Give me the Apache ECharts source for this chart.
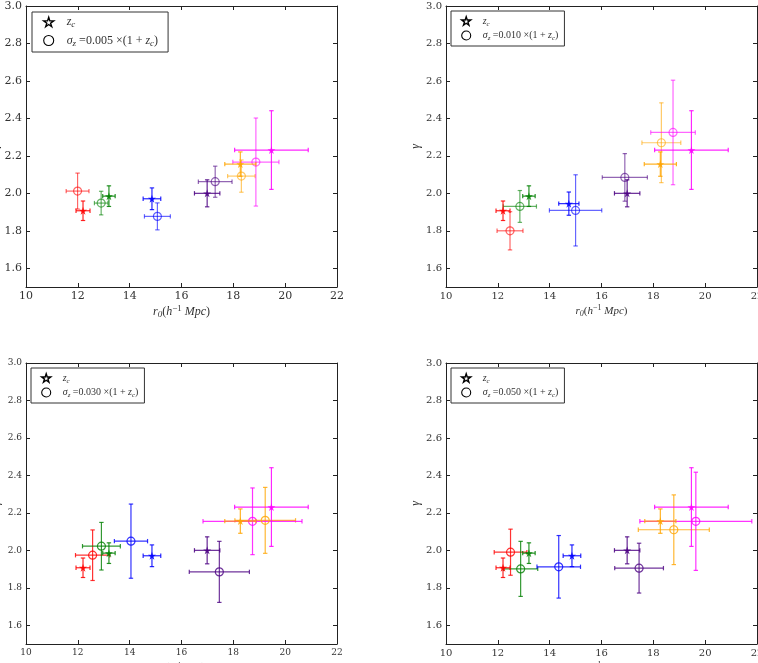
<!DOCTYPE html>
<html>
<head>
<meta charset="utf-8">
<script src="https://cdn.jsdelivr.net/npm/echarts@6/dist/echarts.min.js"></script>
<style>
html, body { margin: 0; padding: 0; background: #fff; }
#chart { width: 758px; height: 663px; }
</style>
</head>
<body>
<div id="chart"></div>
<script>
// ticks
const xTicks = [10, 12, 14, 16, 18, 20, 22];
const yTicks = [1.6, 1.8, 2.0, 2.2, 2.4, 2.6, 2.8, 3.0];
const sigmaLabels = ['0.005', '0.010', '0.030', '0.050'];

// rows: [r0, gamma, r0 err, gamma err]
// order: red, green, blue, purple, orange, magenta
const starsMain = [
  [12.20, 1.907, 0.27, 0.052],
  [13.20, 1.985, 0.24, 0.055],
  [14.86, 1.971, 0.34, 0.058],
  [16.99, 2.000, 0.49, 0.072],
  [18.27, 2.156, 0.60, 0.065],
  [19.47, 2.231, 1.42, 0.210]
];
const starsPanel2 = [
  [12.20, 1.907, 0.27, 0.052],
  [13.20, 1.985, 0.24, 0.055],
  [14.74, 1.945, 0.39, 0.062],
  [16.99, 2.000, 0.49, 0.072],
  [18.27, 2.156, 0.62, 0.065],
  [19.47, 2.231, 1.42, 0.210]
];
const circles005 = [
  [11.99, 2.012, 0.44, 0.096],
  [12.90, 1.948, 0.26, 0.063],
  [15.07, 1.877, 0.50, 0.072],
  [17.30, 2.062, 0.65, 0.083],
  [18.31, 2.092, 0.53, 0.086],
  [18.87, 2.167, 0.89, 0.235]
];
const circles010 = [
  [12.47, 1.800, 0.50, 0.102],
  [12.85, 1.930, 0.64, 0.085],
  [15.00, 1.909, 1.01, 0.190],
  [16.90, 2.085, 0.87, 0.127],
  [18.31, 2.270, 0.75, 0.213],
  [18.76, 2.325, 0.86, 0.279]
];
const circles030 = [
  [12.57, 1.974, 0.66, 0.135],
  [12.91, 2.022, 0.73, 0.127],
  [14.05, 2.049, 0.64, 0.198],
  [17.46, 1.885, 1.16, 0.163],
  [19.23, 2.160, 1.17, 0.176],
  [18.74, 2.155, 1.91, 0.178]
];
const circles050 = [
  [12.49, 1.990, 0.63, 0.123],
  [12.88, 1.901, 0.66, 0.147],
  [14.35, 1.912, 0.84, 0.167],
  [17.45, 1.905, 0.94, 0.133],
  [18.79, 2.110, 1.37, 0.186],
  [19.64, 2.155, 2.16, 0.262]
];

const starSets = [starsMain, starsPanel2, starsMain, starsMain];
const circleSets = [circles005, circles010, circles030, circles050];

// styling
const pointColors = ['#ff0000', '#008000', '#0000ff', '#4b0082', '#ffa500', '#ff00ff'];
const boxes = [
  { left: 26, top: 6, width: 311, height: 281 },
  { left: 446, top: 6, width: 311, height: 281 },
  { left: 26, top: 363, width: 311, height: 281 },
  { left: 446, top: 363, width: 311, height: 281 }
];
const legendPos = [
  { left: 32, top: 12, fs: 12, icon: 10, padL: 11, gap: 8, padR: 10, itemGap: 5 },
  { left: 451, top: 11, fs: 10, icon: 9, padL: 10, gap: 7, padR: 6, itemGap: 2 },
  { left: 31, top: 368, fs: 10, icon: 9, padL: 10, gap: 7, padR: 6, itemGap: 2 },
  { left: 451, top: 368, fs: 10, icon: 9, padL: 10, gap: 7, padR: 6, itemGap: 2 }
];
const tickFont = [11, 10, 9, 10];
const gammaGap = [23, 18, 23, 18];
const circleAlpha = [0.6, 0.6, 0.8, 0.8];
const starPath = 'path://M50,0 L61,35 L98,35 L68,57 L79,91 L50,70 L21,91 L32,57 L2,35 L39,35 Z';
const serif = 'Liberation Serif';

function mathRich(fs, gap) {
  return {
    g: { width: gap || 0 },
    i: { fontFamily: serif, fontStyle: 'italic', fontSize: fs, color: '#333' },
    n: { fontFamily: serif, fontSize: fs, color: '#333' },
    s: { fontFamily: serif, fontStyle: 'italic', fontSize: fs - 3, color: '#333', padding: [6, 0, 0, 0] },
    p: { fontFamily: serif, fontSize: fs - 3, color: '#333', padding: [0, 0, 6, 0] }
  };
}

function errorBars(alpha) {
  return function (params, api) {
    const x = api.value(0), y = api.value(1), dx = api.value(2), dy = api.value(3);
    const l = api.coord([x - dx, y]), r = api.coord([x + dx, y]);
    const t = api.coord([x, y + dy]), b = api.coord([x, y - dy]);
    const style = { stroke: pointColors[params.dataIndex], lineWidth: 1.2, opacity: alpha };
    const cap = 2.2;
    const seg = (x1, y1, x2, y2) => ({ type: 'line', shape: { x1, y1, x2, y2 }, style });
    return {
      type: 'group',
      children: [
        seg(l[0], l[1], r[0], r[1]),
        seg(t[0], t[1], b[0], b[1]),
        seg(l[0], l[1] - cap, l[0], l[1] + cap),
        seg(r[0], r[1] - cap, r[0], r[1] + cap),
        seg(t[0] - cap, t[1], t[0] + cap, t[1]),
        seg(b[0] - cap, b[1], b[0] + cap, b[1])
      ]
    };
  };
}

const grid = [], xAxis = [], yAxis = [], series = [], legend = [];

boxes.forEach((box, i) => {
  grid.push(Object.assign({ containLabel: false, outerBoundsMode: 'none' }, box));
  const fs = tickFont[i];
  const axisLine = { show: true, onZero: false, lineStyle: { color: '#222', width: 1 } };
  const tick = { show: true, inside: true, length: 4, lineStyle: { color: '#222' } };
  const label = { fontFamily: 'DejaVu Serif', fontSize: fs, color: '#333', margin: 4 };

  xAxis.push({
    type: 'value', gridIndex: i, position: 'bottom', min: 10, max: 22,
    axisLine, splitLine: { show: false },
    axisTick: Object.assign({ customValues: xTicks }, tick),
    axisLabel: Object.assign({ customValues: xTicks }, label),
    name: '{i|r}{s|0}{n|(}{i|h}{p|−1}{i| Mpc}{n|)}',
    nameLocation: 'middle', nameGap: 17,
    nameTextStyle: { rich: mathRich(fs + 1) }
  });
  xAxis.push({
    type: 'value', gridIndex: i, position: 'top', min: 10, max: 22,
    axisLine, splitLine: { show: false },
    axisTick: Object.assign({ customValues: xTicks }, tick),
    axisLabel: { show: false }
  });
  yAxis.push({
    type: 'value', gridIndex: i, position: 'left', min: 1.5, max: 3.0,
    axisLine, splitLine: { show: false },
    axisTick: Object.assign({ customValues: yTicks }, tick),
    axisLabel: Object.assign({ customValues: yTicks, formatter: v => v.toFixed(1) }, label),
    name: 'γ', nameLocation: 'middle', nameGap: gammaGap[i], nameRotate: 90,
    nameTextStyle: { fontFamily: serif, fontStyle: 'italic', fontSize: fs + 2, color: '#333' }
  });
  yAxis.push({
    type: 'value', gridIndex: i, position: 'right', min: 1.5, max: 3.0,
    axisLine, splitLine: { show: false },
    axisTick: Object.assign({ customValues: yTicks }, tick),
    axisLabel: { show: false }
  });

  const circleName = 'sigma ' + sigmaLabels[i];
  const a = circleAlpha[i];

  series.push({
    type: 'custom', name: circleName, xAxisIndex: 2 * i, yAxisIndex: 2 * i,
    renderItem: errorBars(a), encode: { x: 0, y: 1 }, data: circleSets[i], z: 2
  });
  series.push({
    type: 'scatter', name: circleName, xAxisIndex: 2 * i, yAxisIndex: 2 * i,
    symbol: 'circle', symbolSize: 8, z: 3,
    data: circleSets[i].map((row, k) => ({
      value: row,
      itemStyle: { color: 'rgba(0,0,0,0)', borderColor: pointColors[k], borderWidth: 1.2, opacity: a }
    }))
  });
  series.push({
    type: 'custom', name: 'z_c', xAxisIndex: 2 * i, yAxisIndex: 2 * i,
    renderItem: errorBars(0.85), encode: { x: 0, y: 1 }, data: starSets[i], z: 4
  });
  series.push({
    type: 'scatter', name: 'z_c', xAxisIndex: 2 * i, yAxisIndex: 2 * i,
    symbol: starPath, symbolSize: 8, z: 5,
    data: starSets[i].map((row, k) => ({
      value: row,
      itemStyle: { color: pointColors[k], opacity: 0.85 }
    }))
  });

  const lp = legendPos[i];
  legend.push({
    orient: 'vertical', left: lp.left, top: lp.top,
    itemWidth: lp.icon, itemHeight: lp.icon, itemGap: lp.itemGap,
    padding: [4, lp.padR, 4, lp.padL], borderColor: '#333', borderWidth: 1, backgroundColor: '#fff',
    selectedMode: false,
    data: [
      { name: 'z_c', icon: starPath, itemStyle: { color: '#fff', borderColor: '#000', borderWidth: 1.4, opacity: 1 } },
      { name: circleName, icon: 'circle', itemStyle: { color: 'rgba(0,0,0,0)', borderColor: '#000', borderWidth: 1.1, opacity: 1 } }
    ],
    formatter: name => name === 'z_c'
      ? '{g|}{i|z}{s|c}'
      : '{g|}{i|σ}{s|z}{n| =' + sigmaLabels[i] + ' ×(1 + }{i|z}{s|c}{n|)}',
    textStyle: { rich: mathRich(lp.fs, lp.gap) }
  });
});

const chart = echarts.init(document.getElementById('chart'));
chart.setOption({
  animation: false,
  backgroundColor: '#fff',
  grid, xAxis, yAxis, legend, series
});
</script>
</body>
</html>
